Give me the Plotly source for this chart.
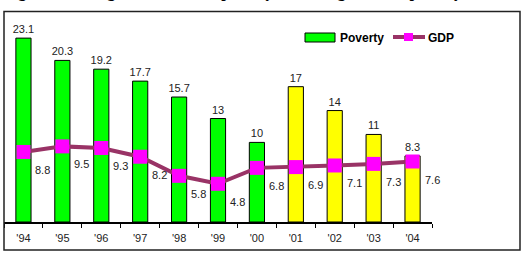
import plotly.graph_objects as go

years = ["'94", "'95", "'96", "'97", "'98", "'99", "'00", "'01", "'02", "'03", "'04"]
poverty = [23.1, 20.3, 19.2, 17.7, 15.7, 13, 10, 17, 14, 11, 8.3]
gdp = [8.8, 9.5, 9.3, 8.2, 5.8, 4.8, 6.8, 6.9, 7.1, 7.3, 7.6]
n_green = 7  # first seven years drawn green, the rest yellow

title_text = "Figure 1: GDP growth rate and poverty rate using national poverty lines"

FONT = "Arial, Liberation Sans, sans-serif"
GREEN = "#00FF00"
YELLOW = "#FFFF00"
LINE_C = "#993366"
MARK_C = "#FF00FF"
TXT = "#222222"

bar_colors = [GREEN if i < n_green else YELLOW for i in range(len(years))]

fig = go.Figure()
fig.add_trace(go.Bar(
    x=years, y=poverty, width=0.39,
    marker=dict(color=bar_colors, line=dict(color="#000000", width=1)),
    texttemplate="%{y}", textposition="outside", cliponaxis=False,
    constraintext="none",
    textfont=dict(family=FONT, size=11, color=TXT),
    outsidetextfont=dict(family=FONT, size=11, color=TXT),
    showlegend=False, hoverinfo="skip",
))
fig.add_trace(go.Scatter(
    x=years, y=gdp, mode="lines+markers",
    line=dict(color=LINE_C, width=4),
    marker=dict(symbol="square", size=14, color=MARK_C, line=dict(width=0)),
    showlegend=False, hoverinfo="skip", cliponaxis=False,
))

# GDP value labels, offset half a category to the right and below the point
for i, v in enumerate(gdp):
    fig.add_annotation(x=i + 0.5, y=v, xref="x", yref="y", text=f"{v}",
                       showarrow=False, yshift=-18,
                       font=dict(family=FONT, size=11, color=TXT))

# Plot area: x 4..432 px, y 23..222 px
L, R, T, B = 4, 432, 23, 222
W, H = 526, 255

def px(xp):
    return (xp - L) / (R - L)

def py(yp):
    return (B - yp) / (B - T)

# outer frame
fig.add_shape(type="rect", xref="paper", yref="paper",
              x0=px(4), x1=px(520), y0=py(250), y1=py(11.5),
              line=dict(color="#222222", width=1.5), fillcolor="rgba(0,0,0,0)")

# custom legend
fig.add_shape(type="rect", xref="paper", yref="paper",
              x0=px(305), x1=px(335), y0=py(42), y1=py(33),
              line=dict(color="#000000", width=1), fillcolor=GREEN)
fig.add_annotation(xref="paper", yref="paper", x=px(338), y=py(37.5),
                   xanchor="left", yanchor="middle", text="<b>Poverty</b>",
                   showarrow=False, font=dict(family=FONT, size=12, color="#000000"))
fig.add_shape(type="line", xref="paper", yref="paper",
              x0=px(393), x1=px(425), y0=py(37), y1=py(37),
              line=dict(color=LINE_C, width=4))
fig.add_shape(type="rect", xref="paper", yref="paper",
              x0=px(404), x1=px(413), y0=py(41), y1=py(33),
              line=dict(width=0), fillcolor=MARK_C)
fig.add_annotation(xref="paper", yref="paper", x=px(426), y=py(37.5),
                   xanchor="left", yanchor="middle", text="<b>GDP</b>",
                   showarrow=False, font=dict(family=FONT, size=12, color="#000000"))

# title, cropped at the top edge as in the reference
fig.add_annotation(xref="paper", yref="paper", x=px(2), y=py(3.5),
                   xanchor="left", yanchor="bottom", text=f"<b>{title_text}</b>",
                   showarrow=False,
                   font=dict(family="Liberation Serif, Times New Roman, serif", size=16, color="#000000"))

fig.update_layout(
    width=W, height=H,
    margin=dict(l=L, r=W - R, t=T, b=H - B),
    paper_bgcolor="white", plot_bgcolor="white",
    xaxis=dict(type="category", showline=True, linecolor="#000000", linewidth=1.5,
               ticks="outside", tickson="boundaries", ticklen=4, tickcolor="#000000",
               tickwidth=1, ticklabelstandoff=5,
               tickfont=dict(family=FONT, size=11, color=TXT),
               showgrid=False, zeroline=False, range=[-0.5, 10.5]),
    yaxis=dict(range=[0, 25], visible=False, showgrid=False, zeroline=False),
)

fig.write_html("out.html")
